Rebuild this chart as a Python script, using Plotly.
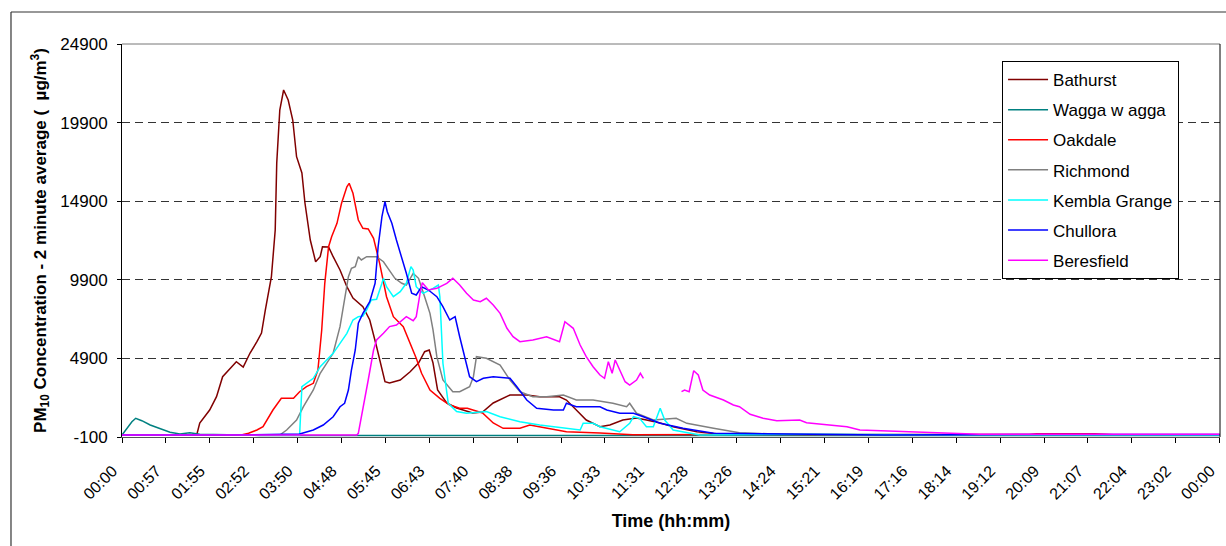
import plotly.graph_objects as go

# ---------------- data (time in minutes after midnight, PM10 in ug/m3) ----------------
tick_labels = ["00:00", "00:57", "01:55", "02:52", "03:50", "04:48", "05:45", "06:43",
               "07:40", "08:38", "09:36", "10:33", "11:31", "12:28", "13:26", "14:24",
               "15:21", "16:19", "17:16", "18:14", "19:12", "20:09", "21:07", "22:04",
               "23:02", "00:00"]
tick_step_min = 57.6
y_ticks = [-100, 4900, 9900, 14900, 19900, 24900]
y_tick_labels = ["-100", "4900", "9900", "14900", "19900", "24900"]

bathurst_t = [0, 60, 98, 102, 115, 124, 132, 144, 150, 159, 168, 177, 183, 188, 194, 196, 201,
              203, 207, 212, 218, 224, 229, 236, 240, 247, 254, 260, 263, 271, 277, 286, 295,
              303, 316, 325, 334, 345, 351, 365, 378, 389, 397, 403, 408, 414, 426, 439, 460,
              473, 487, 509, 531, 548, 574, 583, 596, 609, 627, 640, 657, 675, 688, 706, 723,
              754, 780, 900, 1100, 1440]
bathurst_v = [40, 40, 27, 790, 1617, 2463, 3736, 4372, 4690, 4353, 5243, 5962, 6515, 7978,
              9460, 10096, 13067, 17329, 20700, 21973, 21337, 20065, 17730, 16693, 14785,
              12431, 11051, 11369, 12005, 11986, 11369, 10523, 9460, 8742, 8188, 7342, 5644,
              3418, 3335, 3526, 4054, 4607, 5326, 5434, 4607, 2890, 2063, 1745, 1427, 1490,
              2063, 2572, 2572, 2463, 2463, 2254, 1617, 981, 555, 663, 981, 1109, 981, 790,
              555, 237, 100, 40, 30, 20]

wagga_t = [0, 6, 13, 18, 26, 37, 50, 63, 76, 89, 102, 181, 600, 1000, 1440]
wagga_v = [27, 453, 873, 1090, 937, 663, 453, 199, 91, 173, 72, 0, 0, 0, 0]

oakdale_t = [0, 155, 166, 177, 185, 190, 198, 209, 225, 233, 242, 251, 257, 262, 266, 271,
             275, 282, 288, 295, 298, 303, 310, 316, 323, 330, 338, 347, 356, 369, 378, 386,
             393, 404, 417, 430, 443, 453, 473, 487, 500, 522, 535, 548, 583, 627, 670, 800,
             1000, 1190, 1200, 1240, 1276, 1300, 1440]
oakdale_v = [10, 10, 135, 345, 555, 981, 1617, 2362, 2362, 2782, 3100, 3316, 4162, 6707, 9677,
             12005, 12641, 13494, 14766, 15822, 16038, 15402, 13705, 13177, 13132, 12540,
             10950, 8824, 7552, 6916, 5860, 4906, 3952, 2890, 2362, 1935, 1726, 1726, 1427,
             790, 453, 453, 663, 555, 237, 154, 40, 60, 50, 60, 110, 100, 110, 40, 40]

richmond_t = [0, 207, 216, 229, 238, 251, 260, 268, 277, 286, 292, 297, 301, 306, 310, 314,
              321, 334, 343, 351, 358, 367, 373, 382, 389, 397, 404, 408, 413, 421, 434, 443,
              456, 461, 465, 478, 496, 509, 522, 539, 557, 579, 596, 618, 644, 662, 666, 675,
              697, 727, 741, 776, 810, 863, 1020, 1440]
richmond_v = [20, 20, 345, 981, 1827, 2890, 3952, 4588, 5224, 6916, 8615, 10096, 10630,
              10732, 11369, 11159, 11369, 11369, 11051, 10523, 9994, 9677, 9567, 10312, 9994,
              8824, 7768, 6707, 5008, 3526, 2782, 2782, 3100, 3736, 5008, 4906, 4480, 3526,
              2782, 2463, 2463, 2572, 2254, 2254, 2044, 1827, 2044, 1408, 981, 1090, 771, 453,
              173, 72, 20, 20]

kembla_t = [0, 233, 236, 242, 251, 260, 268, 277, 286, 295, 303, 310, 316, 321, 327, 334,
            341, 343, 347, 356, 365, 373, 379, 382, 386, 395, 408, 415, 417, 421, 428, 439,
            452, 478, 496, 522, 548, 583, 601, 605, 618, 627, 653, 666, 671, 679, 688, 697,
            706, 712, 723, 758, 900, 1100, 1440]
kembla_v = [20, 20, 3100, 3316, 3634, 4372, 4798, 5224, 5860, 6496, 7342, 7552, 7597, 7978,
            8615, 8660, 9677, 9994, 9460, 8824, 9142, 9677, 10739, 10523, 9460, 9041, 9359,
            9567, 8824, 4588, 2044, 1516, 1408, 1516, 1191, 873, 663, 453, 345, 771, 771, 555,
            237, 771, 1191, 1090, 555, 555, 1726, 981, 345, 27, 80, 40, 30]

chullora_t = [0, 146, 233, 251, 264, 277, 286, 292, 297, 301, 306, 310, 316, 325, 332, 336,
              341, 345, 348, 354, 360, 367, 373, 380, 386, 393, 402, 413, 421, 430, 437, 443,
              450, 456, 465, 474, 487, 509, 518, 531, 544, 566, 579, 583, 596, 627, 636, 653,
              671, 684, 706, 736, 776, 900, 1000, 1200, 1440]
chullora_v = [20, 20, 91, 345, 663, 1191, 1827, 2044, 2890, 4162, 5434, 7133, 7768, 8507,
              9677, 12005, 13913, 14867, 14231, 13494, 12431, 11369, 10312, 9041, 8932, 9460,
              9250, 8824, 8188, 7342, 7552, 6280, 4798, 3736, 3418, 3634, 3736, 3634, 3100,
              2254, 1726, 1617, 1617, 2044, 1827, 1827, 1617, 1408, 1408, 1191, 771, 453, 135,
              80, 30, 60, 60]

beresfield_t = [0, 308, 310, 316, 323, 330, 334, 343, 351, 360, 367, 373, 382, 386, 391, 394,
                402, 413, 426, 434, 443, 452, 461, 470, 478, 487, 496, 505, 513, 522, 539, 557,
                574, 581, 592, 601, 609, 618, 627, 633, 638, 643, 647, 653, 660, 666, 675, 680,
                684, 709, 734, 738, 744, 750, 756, 762, 771, 789, 802, 810, 824, 841, 859, 889,
                898, 924, 951, 968, 1038, 1090, 1125, 1440]
beresfield_v = [20, 20, 135, 1827, 3526, 5434, 6070, 6496, 6923, 7024, 7342, 7552, 7298, 7552,
                9041, 9715, 9250, 9359, 9677, 9994, 9567, 9041, 8615, 8507, 8723, 8297, 7768,
                6814, 6280, 5962, 6070, 6280, 5962, 7234, 6814, 5752, 5008, 4372, 3844, 3634,
                4690, 3952, 4798, 4162, 3418, 3208, 3526, 3952, 3634, None, 2782, 2890, 2782,
                4117, 3844, 2890, 2572, 2254, 1935, 1827, 1344, 1090, 937, 981, 809, 663, 555,
                345, 237, 135, 72, 72]

series = [
    ("Bathurst", bathurst_t, bathurst_v, "#800000"),
    ("Wagga w agga", wagga_t, wagga_v, "#008080"),
    ("Oakdale", oakdale_t, oakdale_v, "#FF0000"),
    ("Richmond", richmond_t, richmond_v, "#808080"),
    ("Kembla Grange", kembla_t, kembla_v, "#00FFFF"),
    ("Chullora", chullora_t, chullora_v, "#0000FF"),
    ("Beresfield", beresfield_t, beresfield_v, "#FF00FF"),
]

fig = go.Figure()
for i, (name, t, v, col) in enumerate(series):
    fig.add_trace(go.Scatter(x=t, y=v, mode="lines", name=name, legendgroup=f"g{i}",
                             line=dict(color=col, width=1.5), connectgaps=False))

FONT = "Liberation Sans, Arial, sans-serif"
tickvals = [round(i * tick_step_min, 3) for i in range(len(tick_labels))]
# trailing non-breaking spaces push each rotated label slightly away from its tick (as in the original)
ticktext = [lbl + "\u00a0\u00a0\u00a0" for lbl in tick_labels]

fig.update_layout(
    width=1226, height=546,
    margin=dict(l=122, r=6, t=44, b=109, autoexpand=False),
    paper_bgcolor="white", plot_bgcolor="white",
    font=dict(family=FONT, color="black"),
    showlegend=True,
    legend=dict(x=0.8015, y=0.9567, xanchor="left", yanchor="top",
                bordercolor="black", borderwidth=1, bgcolor="white",
                font=dict(size=17, family=FONT), tracegroupgap=5,
                itemwidth=40),
    xaxis=dict(range=[0, 1440.4], tickmode="array", tickvals=tickvals, ticktext=ticktext,
               tickangle=-45, tickfont=dict(size=16), ticks="outside", ticklen=5,
               ticklabeloverflow="allow", ticklabelstandoff=3,
               tickcolor="black", showline=True, linecolor="#555555", linewidth=1,
               showgrid=False, zeroline=False,
               title=dict(text="<b>Time (hh:mm)</b>", font=dict(size=18), standoff=12)),
    yaxis=dict(range=[-100, 24900], tickmode="array", tickvals=y_ticks, ticktext=y_tick_labels,
               tickfont=dict(size=17), ticks="outside", ticklen=4, tickcolor="black",
               ticklabelstandoff=6,
               showline=True, linecolor="black", linewidth=1,
               showgrid=True, gridcolor="#333333", gridwidth=1, griddash="8px,5px",
               zeroline=False,
               title=dict(text="<b>PM<sub>10</sub> Concentration - 2 minute average (  µg/m<sup>3</sup>)</b>",
                          font=dict(size=17), standoff=9)),
)

# plot-area frame (top and right) and outer chart border (top and left)
fig.add_shape(type="line", xref="paper", yref="paper", x0=0, x1=1, y0=1, y1=1,
              line=dict(color="#777777", width=1))
fig.add_shape(type="line", xref="paper", yref="paper", x0=1, x1=1, y0=0, y1=1,
              line=dict(color="black", width=1))
fig.add_shape(type="line", xref="paper", yref="paper", x0=-0.1011, x1=1.02, y0=1.0814, y1=1.0814,
              line=dict(color="#333333", width=1.2))
fig.add_shape(type="line", xref="paper", yref="paper", x0=-0.1011, x1=-0.1011, y0=-0.35, y1=1.0814,
              line=dict(color="#333333", width=1.2))

fig.write_html("out.html", config={"displayModeBar": False},
               post_script="document.body.style.margin='0';document.body.style.overflow='hidden';")
